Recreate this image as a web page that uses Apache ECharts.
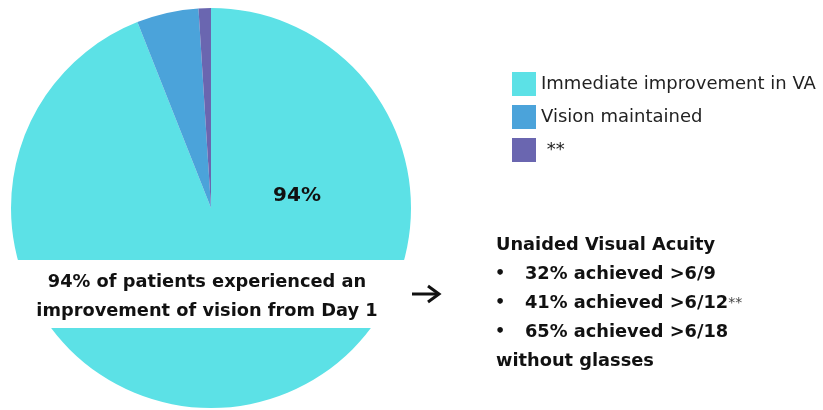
<!DOCTYPE html>
<html>
<head>
<meta charset="utf-8">
<script src="https://cdn.jsdelivr.net/npm/echarts@6/dist/echarts.min.js"></script>
<style>
  html, body { margin: 0; padding: 0; background: #fff; }
  #chart { width: 823px; height: 410px; }
</style>
</head>
<body>
<div id="chart"></div>
<script>
// data
var categories = ['Immediate improvement in VA', 'Vision maintained', '**'];
var values = [94, 5, 1];
var centerLabel = '94%';
var noteLines = ['94% of patients experienced an', 'improvement of vision from Day 1'];
var acuityTitle = 'Unaided Visual Acuity';
var acuityBullets = ['32% achieved >6/9', '41% achieved >6/12', '65% achieved >6/18'];
var acuityFoot = 'without glasses';

var chart = echarts.init(document.getElementById('chart'));
var font = '"DejaVu Sans", sans-serif';
var bold = 'bold 17.8px ' + font;

var pieData = categories.map(function (c, i) {
    return { name: c, value: values[i] };
});

var graphics = [
    // white band across the pie
    { type: 'rect', shape: { x: 0, y: 260, width: 420, height: 68 }, style: { fill: '#fff' }, z: 10 },
    { type: 'text', x: 297, y: 196, z: 11,
      style: { text: centerLabel, font: 'bold 20px ' + font, fill: '#111', align: 'center', verticalAlign: 'middle' } },
    // arrow
    { type: 'line', shape: { x1: 412, y1: 294, x2: 438, y2: 294 }, style: { stroke: '#111', lineWidth: 3 }, z: 11 },
    { type: 'polyline', shape: { points: [[428, 286], [439, 294], [428, 302]] }, style: { stroke: '#111', lineWidth: 3, fill: null }, z: 11 },
    { type: 'text', x: 496, y: 245, z: 11,
      style: { text: acuityTitle, font: bold, fill: '#111', verticalAlign: 'middle' } },
    { type: 'text', x: 496, y: 361, z: 11,
      style: { text: acuityFoot, font: bold, fill: '#111', verticalAlign: 'middle' } }
];
noteLines.forEach(function (t, i) {
    graphics.push({ type: 'text', x: 207, y: 282 + i * 29, z: 11,
        style: { text: t, font: bold, fill: '#111', align: 'center', verticalAlign: 'middle' } });
});
acuityBullets.forEach(function (t, i) {
    var y = 274 + i * 29;
    graphics.push({ type: 'text', x: 495, y: y, z: 11,
        style: { text: '•', font: 'bold 16px ' + font, fill: '#111', verticalAlign: 'middle' } });
    graphics.push({ type: 'text', x: 525, y: y, z: 11,
        style: {
            text: i === 1 ? '{b|' + t + '}{s|**}' : t,
            font: bold, fill: '#111', verticalAlign: 'middle',
            rich: {
                b: { font: bold, fill: '#111' },
                s: { font: '14px ' + font, fill: '#444' }
            }
        } });
});

var option = {
    backgroundColor: '#fff',
    color: ['#5CE1E6', '#4BA3DA', '#6A66B0'],
    animation: false,
    legend: {
        orient: 'vertical',
        left: 507,
        top: 67,
        itemWidth: 24,
        itemHeight: 24,
        itemGap: 9,
        icon: 'rect',
        selectedMode: false,
        data: categories,
        formatter: function (name) { return name === '**' ? ' **' : name; },
        textStyle: { fontFamily: font, fontSize: 18, color: '#222' }
    },
    series: [
        {
            type: 'pie',
            center: [211, 208],
            radius: 200,
            startAngle: 90,
            clockwise: true,
            silent: true,
            label: { show: false },
            labelLine: { show: false },
            data: pieData
        }
    ],
    graphic: graphics
};

chart.setOption(option);
</script>
</body>
</html>
